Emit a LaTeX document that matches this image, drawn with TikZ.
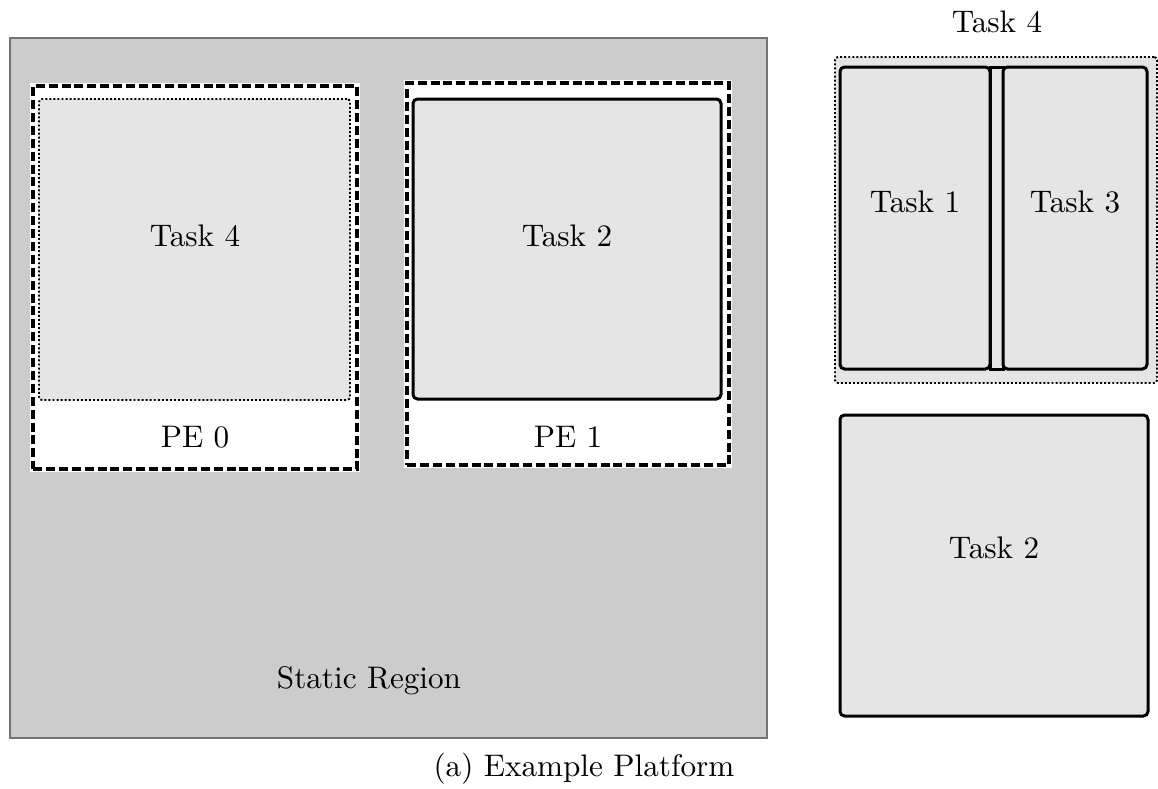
\documentclass[tikz,border=0pt]{standalone}
\usetikzlibrary{fit}
\tikzset{
  staticbox/.style={fill=gray!40, draw=black!55, line width=0.7pt},
  pehalo/.style={draw=white, line width=2.2pt},
  pebox/.style={fill=white, draw=black, line width=1.1pt, dash pattern=on 3pt off 1.3pt},
  taskbox/.style={fill=gray!20, draw=black, line width=1pt, rounded corners=1.5pt, inner sep=0pt},
  slotbox/.style={fill=gray!20, draw=black, line width=0.65pt, dash pattern=on 0.65pt off 0.7pt, rounded corners=1pt, inner sep=0pt},
  lbl/.style={anchor=base, inner sep=0pt, font=\fontsize{10.4pt}{12.5pt}\selectfont}
}
\begin{document}
\begin{tikzpicture}[x=0.3333pt, y=-0.3333pt]
\useasboundingbox (0,0) rectangle (1158,789);

% static region of the platform
\node[staticbox, inner sep=0pt, fit={(10,38) (767,738)}] (static) {};
\node[lbl] (staticlbl) at (369,688) {Static Region};

% processing element 0
\draw[pehalo] (33,86) rectangle (357,469);
\node[pebox, inner sep=0pt, fit={(33,86) (357,469)}] (pe0) {};
\node[slotbox, fit={(39,99) (350,400)}] (pe0slot) {};
\node[lbl] (pe0task) at (195,246) {Task 4};
\node[lbl] (pe0lbl) at (195,447) {PE 0};

% processing element 1
\draw[pehalo] (407,83) rectangle (729,465);
\node[pebox, inner sep=0pt, fit={(407,83) (729,465)}] (pe1) {};
\node[taskbox, fit={(413,99) (721,399)}] (pe1task) {};
\node[lbl] (pe1tasklbl) at (567,246) {Task 2};
\node[lbl] (pe1lbl) at (568,447) {PE 1};

% task 4 composed of tasks 1 and 3
\node[lbl] (t4lbl) at (997,32) {Task 4};
\node[slotbox, fit={(835,57) (1157,383)}] (t4) {};
\node[taskbox, fit={(840,67) (990,369)}] (t1) {};
\node[taskbox, rounded corners=0pt, fit={(990,67) (1003,369)}] (gap) {};
\node[taskbox, fit={(1003,67) (1147,369)}] (t3) {};
\node[lbl] (t1lbl) at (915,212) {Task 1};
\node[lbl] (t3lbl) at (1075,212) {Task 3};

% task 2
\node[taskbox, fit={(840,415) (1148,716)}] (t2) {};
\node[lbl] (t2lbl) at (994,558) {Task 2};

% caption
\node[lbl] (caption) at (584,776) {(a) Example Platform};
\end{tikzpicture}
\end{document}
